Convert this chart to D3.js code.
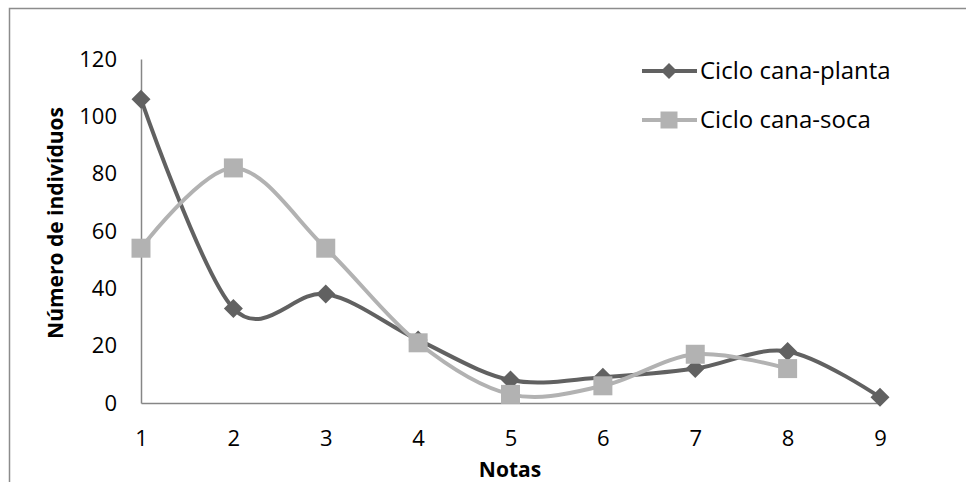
<!DOCTYPE html>
<html>
<head>
<meta charset="utf-8">
<script src="https://cdn.jsdelivr.net/npm/d3@7"></script>
<style>
  body { margin: 0; background: #fff; }
  svg { display: block; font-family: "Open Sans", "Liberation Sans", sans-serif; }
</style>
</head>
<body>
<div class="chart"></div>
<script>
// data
const notas = [1, 2, 3, 4, 5, 6, 7, 8, 9];
const canaPlanta = [106, 33, 38, 22, 8, 9, 12, 18, 2];
const canaSoca = [54, 82, 54, 21, 3, 6, 17, 12];
const yTicks = [0, 20, 40, 60, 80, 100, 120];
const seriesNames = ["Ciclo cana-planta", "Ciclo cana-soca"];
const seriesColors = ["#616161", "#b2b2b2"];

// setup chart
const width = 966;
const height = 482;
const fontSize = 22;
const svg = d3.select(".chart").append("svg").attr("width", width).attr("height", height);

// outer frame
svg.append("path")
   .attr("d", `M9.5,${height} V8.5 H${width}`)
   .attr("fill", "none")
   .attr("stroke", "#8c8c8c")
   .attr("stroke-width", 1.5);

const x = d3.scaleLinear().domain([1, 9]).range([141, 880]);
const y = d3.scaleLinear().domain([0, 120]).range([403, 59]);

// axes
const yAxis = svg.append("g").attr("transform", "translate(141,0)")
   .call(d3.axisLeft(y).tickValues(yTicks).tickSize(0).tickPadding(24));
const xAxis = svg.append("g").attr("transform", "translate(0,403)")
   .call(d3.axisBottom(x).tickValues(notas).tickSize(0).tickPadding(27));
[yAxis, xAxis].forEach((ax) => {
   ax.attr("font-size", fontSize).attr("font-family", null);
   ax.select(".domain").attr("stroke", "#868686").attr("stroke-width", 1.5);
   ax.selectAll("text").attr("fill", "#000");
});

// axis titles
svg.append("text")
   .attr("x", 510).attr("y", 477)
   .attr("text-anchor", "middle")
   .attr("font-weight", "bold").attr("font-size", 21)
   .text("Notas");
svg.append("text")
   .attr("transform", "translate(63,223) rotate(-90)")
   .attr("text-anchor", "middle")
   .attr("font-weight", "bold").attr("font-size", 21)
   .text("Número de indivíduos");

// lines
const line = d3.line()
   .x((d, i) => x(notas[i]))
   .y((d) => y(d))
   .curve(d3.curveCardinal.tension(0));

const series = [canaPlanta, canaSoca];
const diamond = (s) => `M0,${-s}L${s},0L0,${s}L${-s},0Z`;
const square = (s) => `M${-s},${-s}H${s}V${s}H${-s}Z`;
const shapes = [diamond(9.5), square(9.5)];
const legendShapes = [diamond(8), square(8.5)];

series.forEach((vals, si) => {
   svg.append("path")
      .attr("d", line(vals))
      .attr("fill", "none")
      .attr("stroke", seriesColors[si])
      .attr("stroke-width", 4);
});
series.forEach((vals, si) => {
   svg.append("g").selectAll("path")
      .data(vals)
      .enter()
      .append("path")
      .attr("transform", (d, i) => `translate(${x(notas[i])},${y(d)})`)
      .attr("d", shapes[si])
      .attr("fill", seriesColors[si]);
});

// legend
const legend = svg.append("g").selectAll("g")
   .data(seriesNames)
   .enter()
   .append("g")
   .attr("transform", (d, i) => `translate(642,${71 + i * 49})`);
legend.append("line")
   .attr("x1", 0).attr("x2", 55)
   .attr("stroke", (d, i) => seriesColors[i])
   .attr("stroke-width", 4);
legend.append("path")
   .attr("transform", "translate(27,0)")
   .attr("d", (d, i) => legendShapes[i])
   .attr("fill", (d, i) => seriesColors[i]);
legend.append("text")
   .attr("x", 58).attr("dy", "0.35em")
   .attr("font-size", 24)
   .text((d) => d);
</script>
</body>
</html>
